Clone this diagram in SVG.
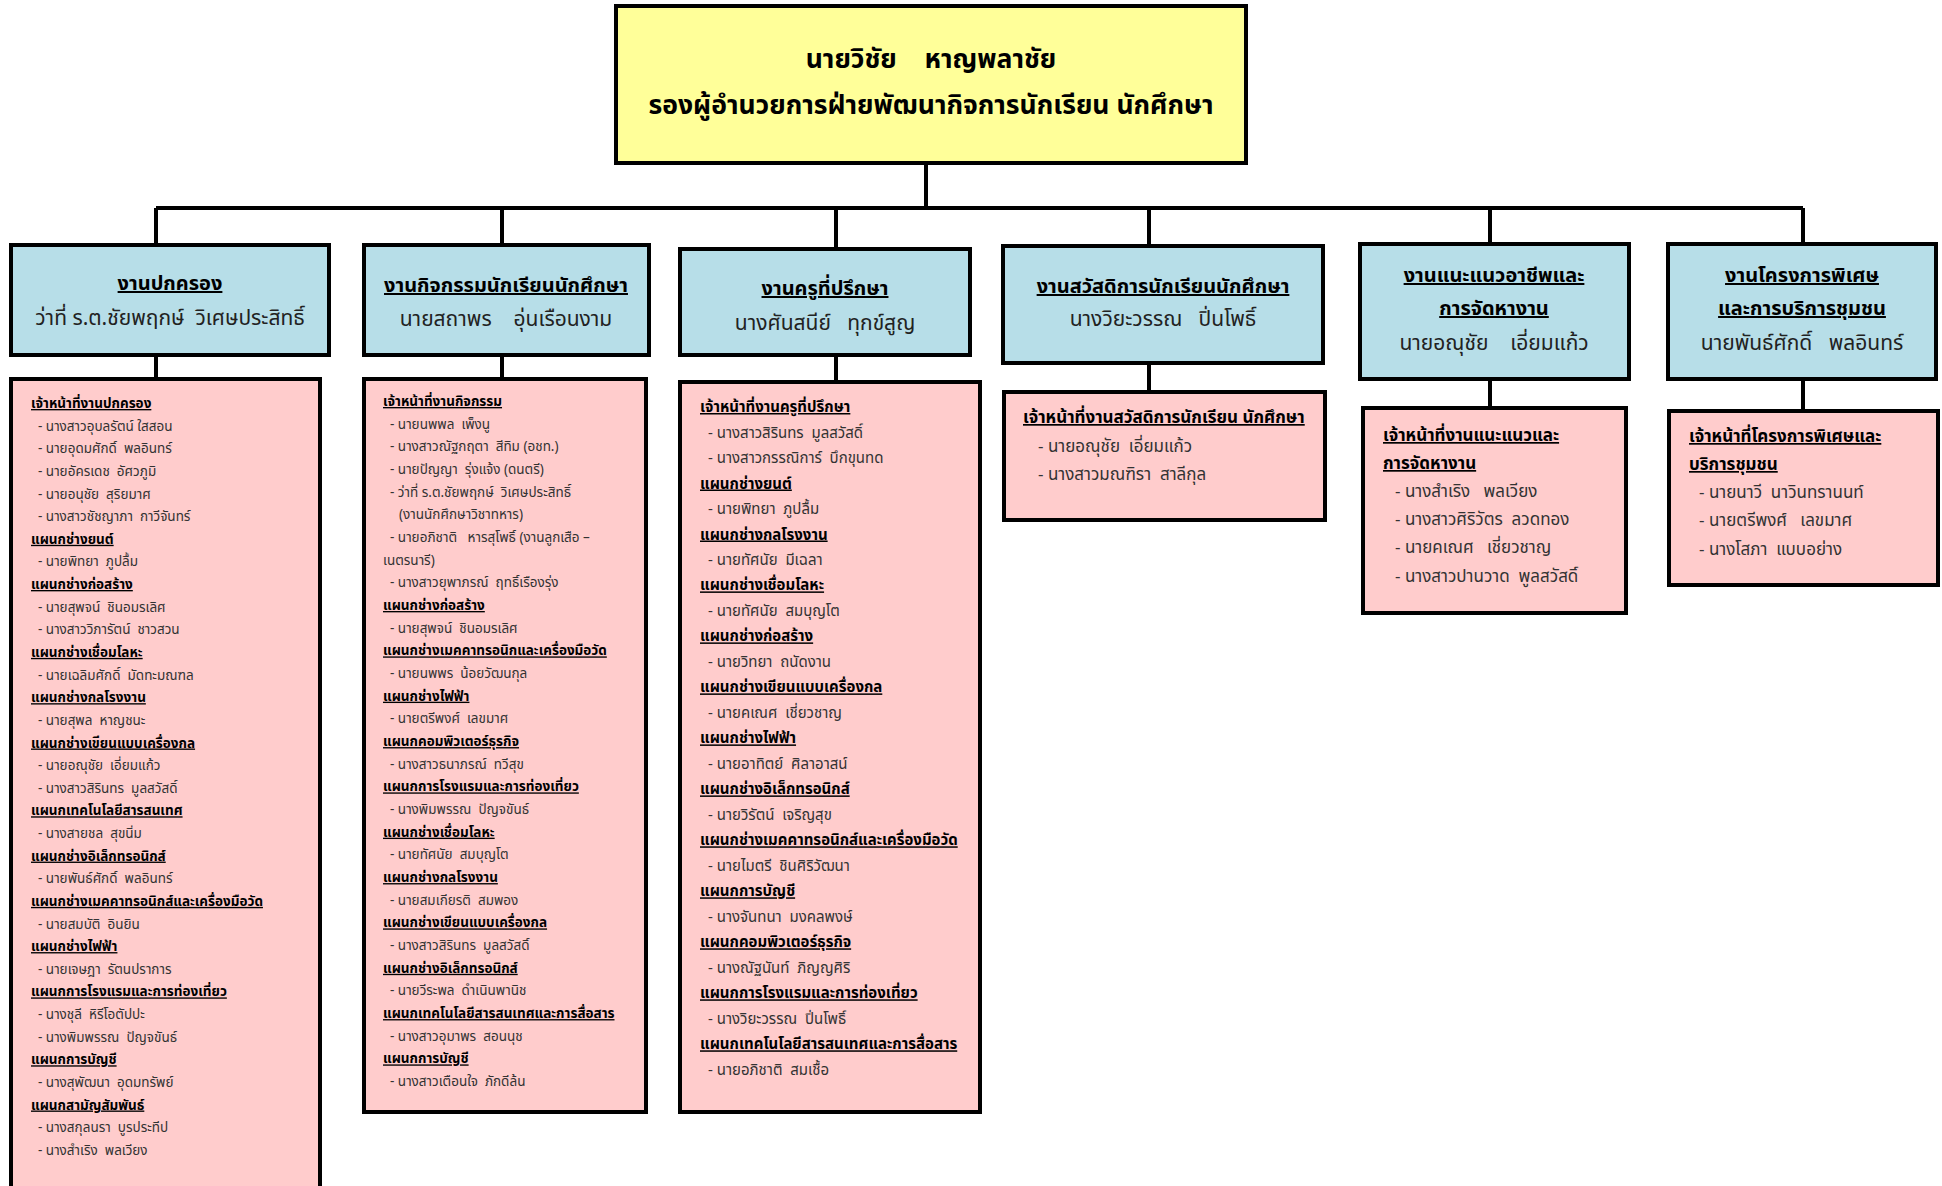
<svg xmlns="http://www.w3.org/2000/svg" width="1942" height="1186" viewBox="0 0 1942 1186" xml:space="preserve">
<style>
text { font-family: "Noto Sans Thai", "Noto Sans", "DejaVu Sans", sans-serif; white-space: pre; }
.top { fill: #FFFF99; stroke: #000; stroke-width: 4; }
.blue { fill: #B7DEE8; stroke: #000; stroke-width: 4; }
.pink { fill: #FFCCCC; stroke: #000; stroke-width: 4; }
.conn { stroke: #000; stroke-width: 4; fill: none; }
.tt { font-size: 26.5px; font-weight: bold; fill: #000; text-anchor: middle; }
.bh { font-size: 20px; font-weight: bold; text-decoration: underline; fill: #000; text-anchor: middle; }
.bn { font-size: 21px; fill: #222; text-anchor: middle; }
.h1 { font-size: 13.5px; font-weight: bold; text-decoration: underline; fill: #000; }
.i1 { font-size: 13.5px; fill: #333; }
.h3 { font-size: 15px; font-weight: bold; text-decoration: underline; fill: #000; }
.i3 { font-size: 15px; fill: #333; }
.h4 { font-size: 17px; font-weight: bold; text-decoration: underline; fill: #000; }
.i4 { font-size: 17px; fill: #333; }
</style>

<g id="connectors">
  <path class="conn" d="M926 163 V208 M156 208 H1803 M156 208 V244 M502 208 V244 M836 208 V248 M1149 208 V245 M1490 208 V243 M1803 208 V243"/>
  <path class="conn" d="M156 355 V378 M502 355 V378 M836 355 V381 M1149 363 V391 M1490 379 V407 M1803 379 V410"/>
</g>

<g id="director">
  <rect class="top" x="616" y="6" width="630" height="157"/>
  <text class="tt" x="931" y="68">นายวิชัย    หาญพลาชัย</text>
  <text class="tt" x="931" y="114">รองผู้อำนวยการฝ่ายพัฒนากิจการนักเรียน นักศึกษา</text>
</g>

<g id="dept1">
  <rect class="blue" x="11" y="245" width="318" height="110"/>
  <text class="bh" x="170" y="290">งานปกครอง</text>
  <text class="bn" x="170" y="325">ว่าที่ ร.ต.ชัยพฤกษ์  วิเศษประสิทธิ์</text>
</g>
<g id="dept2">
  <rect class="blue" x="364" y="245" width="285" height="110"/>
  <text class="bh" x="506" y="292">งานกิจกรรมนักเรียนนักศึกษา</text>
  <text class="bn" x="506" y="326">นายสถาพร    อุ่นเรือนงาม</text>
</g>
<g id="dept3">
  <rect class="blue" x="680" y="249" width="290" height="106"/>
  <text class="bh" x="825" y="295">งานครูที่ปรึกษา</text>
  <text class="bn" x="825" y="330">นางศันสนีย์   ทุกข์สูญ</text>
</g>
<g id="dept4">
  <rect class="blue" x="1003" y="246" width="320" height="117"/>
  <text class="bh" x="1163" y="293">งานสวัสดิการนักเรียนนักศึกษา</text>
  <text class="bn" x="1163" y="326">นางวิยะวรรณ   ปิ่นโพธิ์</text>
</g>
<g id="dept5">
  <rect class="blue" x="1360" y="244" width="269" height="135"/>
  <text class="bh" x="1494" y="282">งานแนะแนวอาชีพและ</text>
  <text class="bh" x="1494" y="315">การจัดหางาน</text>
  <text class="bn" x="1494" y="350">นายอณุชัย    เอี่ยมแก้ว</text>
</g>
<g id="dept6">
  <rect class="blue" x="1668" y="244" width="268" height="135"/>
  <text class="bh" x="1802" y="282">งานโครงการพิเศษ</text>
  <text class="bh" x="1802" y="315">และการบริการชุมชน</text>
  <text class="bn" x="1802" y="350">นายพันธ์ศักดิ์   พลอินทร์</text>
</g>

<g id="staff1">
  <rect class="pink" x="11" y="379" width="309" height="830"/>
  <text class="h1" x="31" y="408">เจ้าหน้าที่งานปกครอง</text>
  <text class="i1" x="38" y="430.6">- นางสาวอุบลรัตน์ ใสสอน</text>
  <text class="i1" x="38" y="453.3">- นายอุดมศักดิ์  พลอินทร์</text>
  <text class="i1" x="38" y="475.9">- นายอัครเดช  อัศวภูมิ</text>
  <text class="i1" x="38" y="498.5">- นายอนุชัย  สุริยมาศ</text>
  <text class="i1" x="38" y="521.2">- นางสาวชัชญาภา  กาวีจันทร์</text>
  <text class="h1" x="31" y="543.8">แผนกช่างยนต์</text>
  <text class="i1" x="38" y="566.4">- นายพิทยา  ภูปลื้ม</text>
  <text class="h1" x="31" y="589.0">แผนกช่างก่อสร้าง</text>
  <text class="i1" x="38" y="611.7">- นายสุพจน์  ชินอมรเลิศ</text>
  <text class="i1" x="38" y="634.3">- นางสาววิภารัตน์  ชาวสวน</text>
  <text class="h1" x="31" y="656.9">แผนกช่างเชื่อมโลหะ</text>
  <text class="i1" x="38" y="679.6">- นายเฉลิมศักดิ์  มัดทะมณฑล</text>
  <text class="h1" x="31" y="702.2">แผนกช่างกลโรงงาน</text>
  <text class="i1" x="38" y="724.8">- นายสุพล  หาญชนะ</text>
  <text class="h1" x="31" y="747.5">แผนกช่างเขียนแบบเครื่องกล</text>
  <text class="i1" x="38" y="770.1">- นายอณุชัย  เอี่ยมแก้ว</text>
  <text class="i1" x="38" y="792.7">- นางสาวสิรินทร  มูลสวัสดิ์</text>
  <text class="h1" x="31" y="815.3">แผนกเทคโนโลยีสารสนเทศ</text>
  <text class="i1" x="38" y="838.0">- นางสายชล  สุขนิ่ม</text>
  <text class="h1" x="31" y="860.6">แผนกช่างอิเล็กทรอนิกส์</text>
  <text class="i1" x="38" y="883.2">- นายพันธ์ศักดิ์  พลอินทร์</text>
  <text class="h1" x="31" y="905.9">แผนกช่างเมคคาทรอนิกส์และเครื่องมือวัด</text>
  <text class="i1" x="38" y="928.5">- นายสมบัติ  อินยิน</text>
  <text class="h1" x="31" y="951.1">แผนกช่างไฟฟ้า</text>
  <text class="i1" x="38" y="973.8">- นายเจษฎา  รัตนปราการ</text>
  <text class="h1" x="31" y="996.4">แผนกการโรงแรมและการท่องเที่ยว</text>
  <text class="i1" x="38" y="1019.0">- นางชุลี  หิรีโอตัปปะ</text>
  <text class="i1" x="38" y="1041.6">- นางพิมพรรณ  ปัญจขันธ์</text>
  <text class="h1" x="31" y="1064.3">แผนกการบัญชี</text>
  <text class="i1" x="38" y="1086.9">- นางสุพัฒนา  อุดมทรัพย์</text>
  <text class="h1" x="31" y="1109.5">แผนกสามัญสัมพันธ์</text>
  <text class="i1" x="38" y="1132.2">- นางสกุลนรา  บูรประทีป</text>
  <text class="i1" x="38" y="1154.8">- นางสำเริง  พลเวียง</text>
</g>

<g id="staff2">
  <rect class="pink" x="364" y="379" width="282" height="733"/>
  <text class="h1" x="383" y="406">เจ้าหน้าที่งานกิจกรรม</text>
  <text class="i1" x="390" y="428.7">- นายนพพล  เพ็งนู</text>
  <text class="i1" x="390" y="451.3">- นางสาวณัฐกฤตา  สีทิม (อชท.)</text>
  <text class="i1" x="390" y="474.0">- นายปัญญา  รุ่งแจ้ง (ดนตรี)</text>
  <text class="i1" x="390" y="496.7">- ว่าที่ ร.ต.ชัยพฤกษ์  วิเศษประสิทธิ์</text>
  <text class="i1" x="399" y="519.4">(งานนักศึกษาวิชาทหาร)</text>
  <text class="i1" x="390" y="542.0">- นายอภิชาติ   หารสุโพธิ์ (งานลูกเสือ –</text>
  <text class="i1" x="383" y="564.7">เนตรนารี)</text>
  <text class="i1" x="390" y="587.4">- นางสาวยุพาภรณ์  ฤทธิ์เรืองรุ่ง</text>
  <text class="h1" x="383" y="610.0">แผนกช่างก่อสร้าง</text>
  <text class="i1" x="390" y="632.7">- นายสุพจน์  ชินอมรเลิศ</text>
  <text class="h1" x="383" y="655.4">แผนกช่างเมคคาทรอนิกและเครื่องมือวัด</text>
  <text class="i1" x="390" y="678.0">- นายนพพร  น้อยวัฒนกุล</text>
  <text class="h1" x="383" y="700.7">แผนกช่างไฟฟ้า</text>
  <text class="i1" x="390" y="723.4">- นายตรีพงศ์  เลขมาศ</text>
  <text class="h1" x="383" y="746.1">แผนกคอมพิวเตอร์ธุรกิจ</text>
  <text class="i1" x="390" y="768.7">- นางสาวธนาภรณ์  ทวีสุข</text>
  <text class="h1" x="383" y="791.4">แผนกการโรงแรมและการท่องเที่ยว</text>
  <text class="i1" x="390" y="814.1">- นางพิมพรรณ  ปัญจขันธ์</text>
  <text class="h1" x="383" y="836.7">แผนกช่างเชื่อมโลหะ</text>
  <text class="i1" x="390" y="859.4">- นายทัศนัย  สมบุญโต</text>
  <text class="h1" x="383" y="882.1">แผนกช่างกลโรงงาน</text>
  <text class="i1" x="390" y="904.7">- นายสมเกียรติ  สมพอง</text>
  <text class="h1" x="383" y="927.4">แผนกช่างเขียนแบบเครื่องกล</text>
  <text class="i1" x="390" y="950.1">- นางสาวสิรินทร  มูลสวัสดิ์</text>
  <text class="h1" x="383" y="972.8">แผนกช่างอิเล็กทรอนิกส์</text>
  <text class="i1" x="390" y="995.4">- นายวีระพล  ดำเนินพานิช</text>
  <text class="h1" x="383" y="1018.1">แผนกเทคโนโลยีสารสนเทศและการสื่อสาร</text>
  <text class="i1" x="390" y="1040.8">- นางสาวอุมาพร  สอนนุช</text>
  <text class="h1" x="383" y="1063.4">แผนกการบัญชี</text>
  <text class="i1" x="390" y="1086.1">- นางสาวเตือนใจ  ภักดีล้น</text>
</g>

<g id="staff3">
  <rect class="pink" x="680" y="382" width="300" height="730"/>
  <text class="h3" x="700" y="412">เจ้าหน้าที่งานครูที่ปรึกษา</text>
  <text class="i3" x="708" y="437.5">- นางสาวสิรินทร  มูลสวัสดิ์</text>
  <text class="i3" x="708" y="463.0">- นางสาวกรรณิการ์  บึกขุนทด</text>
  <text class="h3" x="700" y="488.5">แผนกช่างยนต์</text>
  <text class="i3" x="708" y="514.0">- นายพิทยา  ภูปลื้ม</text>
  <text class="h3" x="700" y="539.5">แผนกช่างกลโรงงาน</text>
  <text class="i3" x="708" y="564.9">- นายทัศนัย  มีเฉลา</text>
  <text class="h3" x="700" y="590.4">แผนกช่างเชื่อมโลหะ</text>
  <text class="i3" x="708" y="615.9">- นายทัศนัย  สมบุญโต</text>
  <text class="h3" x="700" y="641.4">แผนกช่างก่อสร้าง</text>
  <text class="i3" x="708" y="666.9">- นายวิทยา  ถนัดงาน</text>
  <text class="h3" x="700" y="692.4">แผนกช่างเขียนแบบเครื่องกล</text>
  <text class="i3" x="708" y="717.9">- นายคเณศ  เชี่ยวชาญ</text>
  <text class="h3" x="700" y="743.4">แผนกช่างไฟฟ้า</text>
  <text class="i3" x="708" y="768.9">- นายอาทิตย์  ศิลาอาสน์</text>
  <text class="h3" x="700" y="794.4">แผนกช่างอิเล็กทรอนิกส์</text>
  <text class="i3" x="708" y="819.8">- นายวิรัตน์  เจริญสุข</text>
  <text class="h3" x="700" y="845.3">แผนกช่างเมคคาทรอนิกส์และเครื่องมือวัด</text>
  <text class="i3" x="708" y="870.8">- นายไมตรี  ชินศิริวัฒนา</text>
  <text class="h3" x="700" y="896.3">แผนกการบัญชี</text>
  <text class="i3" x="708" y="921.8">- นางจันทนา  มงคลพงษ์</text>
  <text class="h3" x="700" y="947.3">แผนกคอมพิวเตอร์ธุรกิจ</text>
  <text class="i3" x="708" y="972.8">- นางณัฐนันท์  ภิญญศิริ</text>
  <text class="h3" x="700" y="998.3">แผนกการโรงแรมและการท่องเที่ยว</text>
  <text class="i3" x="708" y="1023.8">- นางวิยะวรรณ  ปิ่นโพธิ์</text>
  <text class="h3" x="700" y="1049.3">แผนกเทคโนโลยีสารสนเทศและการสื่อสาร</text>
  <text class="i3" x="708" y="1074.7">- นายอภิชาติ  สมเชื้อ</text>
</g>

<g id="staff4">
  <rect class="pink" x="1004" y="392" width="321" height="128"/>
  <text class="h4" x="1023" y="423">เจ้าหน้าที่งานสวัสดิการนักเรียน นักศึกษา</text>
  <text class="i4" x="1038" y="452">- นายอณุชัย  เอี่ยมแก้ว</text>
  <text class="i4" x="1038" y="480">- นางสาวมณฑิรา  สาลีกุล</text>
</g>

<g id="staff5">
  <rect class="pink" x="1363" y="408" width="263" height="205"/>
  <text class="h4" x="1383" y="441">เจ้าหน้าที่งานแนะแนวและ</text>
  <text class="h4" x="1383" y="469">การจัดหางาน</text>
  <text class="i4" x="1395" y="497">- นางสำเริง   พลเวียง</text>
  <text class="i4" x="1395" y="525">- นางสาวศิริวัตร  ลวดทอง</text>
  <text class="i4" x="1395" y="553">- นายคเณศ   เชี่ยวชาญ</text>
  <text class="i4" x="1395" y="582">- นางสาวปานวาด  พูลสวัสดิ์</text>
</g>

<g id="staff6">
  <rect class="pink" x="1669" y="411" width="269" height="174"/>
  <text class="h4" x="1689" y="442">เจ้าหน้าที่โครงการพิเศษและ</text>
  <text class="h4" x="1689" y="470">บริการชุมชน</text>
  <text class="i4" x="1699" y="498">- นายนาวี  นาวินทรานนท์</text>
  <text class="i4" x="1699" y="526">- นายตรีพงศ์   เลขมาศ</text>
  <text class="i4" x="1699" y="555">- นางโสภา  แบบอย่าง</text>
</g>
</svg>
